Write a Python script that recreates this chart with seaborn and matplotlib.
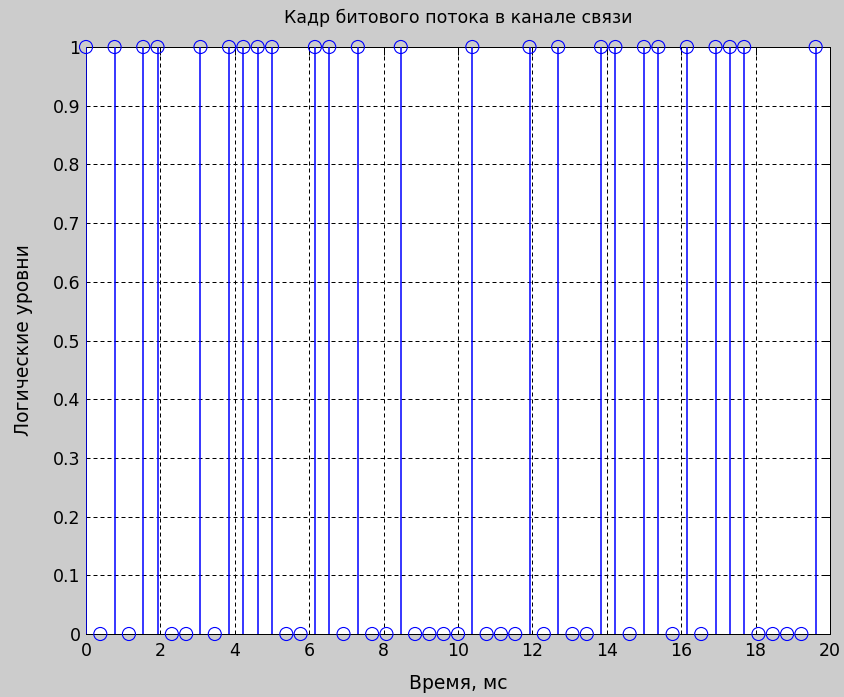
import matplotlib
matplotlib.use("Agg")
import matplotlib.pyplot as plt
import seaborn as sns
import pandas as pd

# Sample instants of the frame, ms
time_ms = [0.000, 0.385, 0.769, 1.154, 1.538, 1.923, 2.308, 2.692, 3.077, 3.462,
           3.846, 4.231, 4.615, 5.000, 5.385, 5.769, 6.154, 6.538, 6.923, 7.308,
           7.692, 8.077, 8.462, 8.846, 9.231, 9.615, 10.000, 10.385, 10.769, 11.154,
           11.538, 11.923, 12.308, 12.692, 13.077, 13.462, 13.846, 14.231, 14.615, 15.000,
           15.385, 15.769, 16.154, 16.538, 16.923, 17.308, 17.692, 18.077, 18.462, 18.846,
           19.231, 19.615]

# Logical level of each bit
bits = [1, 0, 1, 0, 1, 1, 0, 0, 1, 0,
        1, 1, 1, 1, 0, 0, 1, 1, 0, 1,
        0, 0, 1, 0, 0, 0, 0, 1, 0, 0,
        0, 1, 0, 1, 0, 0, 1, 1, 0, 1,
        1, 0, 1, 0, 1, 1, 1, 0, 0, 0,
        0, 1]

x_ticks = [0, 2, 4, 6, 8, 10, 12, 14, 16, 18, 20]
y_ticks = [0, 0.1, 0.2, 0.3, 0.4, 0.5, 0.6, 0.7, 0.8, 0.9, 1]
y_tick_labels = ["0", "0.1", "0.2", "0.3", "0.4", "0.5", "0.6", "0.7", "0.8", "0.9", "1"]

title = "Кадр битового потока в канале связи"
x_label = "Время, мс"
y_label = "Логические уровни"

df = pd.DataFrame({"t": time_ms, "level": bits})

sns.set_style("white")
plt.rcParams["font.family"] = ["DejaVu Sans"]
plt.rcParams["text.color"] = "black"
plt.rcParams["axes.labelcolor"] = "black"

bg = "#cccccc"
blue = "#0000ff"
px = 0.72  # one pixel in points at 100 dpi

fig = plt.figure(figsize=(8.44, 6.97), dpi=100, facecolor=bg)
ax = fig.add_axes([86 / 844, 1 - 634 / 697, (830 - 86) / 844, (634 - 47) / 697])
ax.set_facecolor("white")

# stems from zero up to each level
ax.vlines(df["t"], 0, df["level"], colors=blue, linewidth=1.1, zorder=3)

# open circle heads
sns.scatterplot(data=df, x="t", y="level", ax=ax, marker="o", s=88,
                facecolors="none", edgecolor=blue, linewidth=0.8,
                zorder=4, clip_on=False, legend=False)

ax.set_xlim(0, 20)
ax.set_ylim(0, 1)
ax.set_xticks(x_ticks)
ax.set_yticks(y_ticks)
ax.set_yticklabels(y_tick_labels)

ax.grid(True, color="black", linestyle=(0, (4, 3)), linewidth=px)
ax.set_axisbelow(True)

for sp in ax.spines.values():
    sp.set_visible(True)
    sp.set_color("black")
    sp.set_linewidth(px)

ax.tick_params(axis="x", which="both", direction="in", length=5.5, width=px,
               colors="black", labelsize=12.5, top=True, labeltop=False, pad=6)
ax.tick_params(axis="y", which="both", direction="in", length=5.5, width=px,
               colors="black", labelsize=12.5, right=True, labelright=False, pad=4)

ax.set_title(title, fontsize=12.5, pad=17, color="black")
ax.set_xlabel(x_label, fontsize=13.5, labelpad=10)
ax.set_ylabel(y_label, fontsize=13.5, labelpad=14)

fig.savefig("out.png", dpi=100, facecolor=bg)
